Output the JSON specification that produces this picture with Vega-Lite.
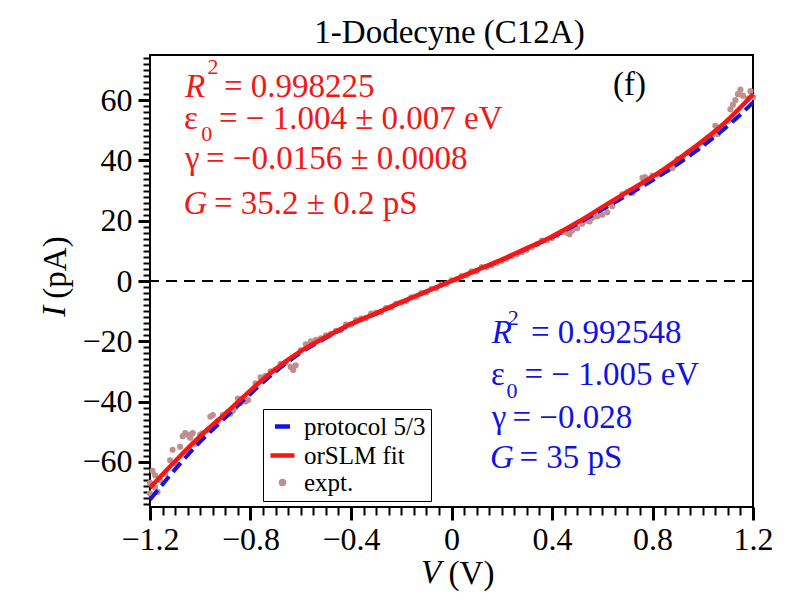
{
  "$schema": "https://vega.github.io/schema/vega-lite/v6.json",
  "description": "I-V curve of 1-Dodecyne (C12A): experiment, orSLM fit and protocol 5/3",
  "background": "white",
  "autosize": {"type": "none"},
  "padding": {"left": 150, "top": 55, "right": 39, "bottom": 105},
  "width": 603,
  "height": 452,
  "title": {
    "text": "1-Dodecyne (C12A)",
    "font": "Liberation Serif",
    "fontSize": 33,
    "fontWeight": "normal",
    "color": "black",
    "anchor": "middle",
    "frame": "group",
    "baseline": "alphabetic",
    "offset": 17,
    "dx": -2,
    "dy": 38
  },
  "datasets": {
    "curves": [
      {"series": "protocol 5/3", "V": -1.2, "I": -72.6},
      {"series": "protocol 5/3", "V": -1.1, "I": -62.5},
      {"series": "protocol 5/3", "V": -1.0, "I": -53.3},
      {"series": "protocol 5/3", "V": -0.9, "I": -45.3},
      {"series": "protocol 5/3", "V": -0.8, "I": -37.4},
      {"series": "protocol 5/3", "V": -0.7, "I": -30.0},
      {"series": "protocol 5/3", "V": -0.6, "I": -23.8},
      {"series": "protocol 5/3", "V": -0.5, "I": -18.9},
      {"series": "protocol 5/3", "V": -0.4, "I": -14.4},
      {"series": "protocol 5/3", "V": -0.3, "I": -10.8},
      {"series": "protocol 5/3", "V": -0.2, "I": -7.1},
      {"series": "protocol 5/3", "V": -0.1, "I": -3.5},
      {"series": "protocol 5/3", "V": 0.0, "I": 0.0},
      {"series": "protocol 5/3", "V": 0.1, "I": 3.5},
      {"series": "protocol 5/3", "V": 0.2, "I": 7.0},
      {"series": "protocol 5/3", "V": 0.3, "I": 10.7},
      {"series": "protocol 5/3", "V": 0.4, "I": 14.5},
      {"series": "protocol 5/3", "V": 0.5, "I": 18.9},
      {"series": "protocol 5/3", "V": 0.6, "I": 23.7},
      {"series": "protocol 5/3", "V": 0.7, "I": 28.5},
      {"series": "protocol 5/3", "V": 0.8, "I": 33.4},
      {"series": "protocol 5/3", "V": 0.9, "I": 38.8},
      {"series": "protocol 5/3", "V": 1.0, "I": 44.8},
      {"series": "protocol 5/3", "V": 1.1, "I": 51.5},
      {"series": "protocol 5/3", "V": 1.2, "I": 59.2},
      {"series": "orSLM fit", "V": -1.2, "I": -68.6},
      {"series": "orSLM fit", "V": -1.1, "I": -59.8},
      {"series": "orSLM fit", "V": -1.0, "I": -51.5},
      {"series": "orSLM fit", "V": -0.9, "I": -44.0},
      {"series": "orSLM fit", "V": -0.8, "I": -36.3},
      {"series": "orSLM fit", "V": -0.7, "I": -29.2},
      {"series": "orSLM fit", "V": -0.6, "I": -23.3},
      {"series": "orSLM fit", "V": -0.5, "I": -18.6},
      {"series": "orSLM fit", "V": -0.4, "I": -14.2},
      {"series": "orSLM fit", "V": -0.3, "I": -10.7},
      {"series": "orSLM fit", "V": -0.2, "I": -7.0},
      {"series": "orSLM fit", "V": -0.1, "I": -3.5},
      {"series": "orSLM fit", "V": 0.0, "I": 0.0},
      {"series": "orSLM fit", "V": 0.1, "I": 3.6},
      {"series": "orSLM fit", "V": 0.2, "I": 7.1},
      {"series": "orSLM fit", "V": 0.3, "I": 10.9},
      {"series": "orSLM fit", "V": 0.4, "I": 14.8},
      {"series": "orSLM fit", "V": 0.5, "I": 19.4},
      {"series": "orSLM fit", "V": 0.6, "I": 24.5},
      {"series": "orSLM fit", "V": 0.7, "I": 29.6},
      {"series": "orSLM fit", "V": 0.8, "I": 34.6},
      {"series": "orSLM fit", "V": 0.9, "I": 40.3},
      {"series": "orSLM fit", "V": 1.0, "I": 46.5},
      {"series": "orSLM fit", "V": 1.1, "I": 53.5},
      {"series": "orSLM fit", "V": 1.2, "I": 62.0}
    ],
    "expt": [
      {"series": "expt.", "V": -1.20, "I": -67.0}, {"series": "expt.", "V": -1.20, "I": -70.5},
      {"series": "expt.", "V": -1.19, "I": -63.0}, {"series": "expt.", "V": -1.18, "I": -64.5},
      {"series": "expt.", "V": -1.18, "I": -68.5}, {"series": "expt.", "V": -1.17, "I": -70.0},
      {"series": "expt.", "V": -1.16, "I": -66.0}, {"series": "expt.", "V": -1.14, "I": -64.0},
      {"series": "expt.", "V": -1.12, "I": -59.5}, {"series": "expt.", "V": -1.11, "I": -56.0},
      {"series": "expt.", "V": -1.10, "I": -60.5}, {"series": "expt.", "V": -1.08, "I": -55.0},
      {"series": "expt.", "V": -1.07, "I": -51.5}, {"series": "expt.", "V": -1.06, "I": -50.5},
      {"series": "expt.", "V": -1.05, "I": -51.0}, {"series": "expt.", "V": -1.04, "I": -52.0},
      {"series": "expt.", "V": -1.03, "I": -50.5}, {"series": "expt.", "V": -1.02, "I": -54.0},
      {"series": "expt.", "V": -1.00, "I": -51.0}, {"series": "expt.", "V": -0.99, "I": -50.5},
      {"series": "expt.", "V": -0.97, "I": -49.5}, {"series": "expt.", "V": -0.96, "I": -45.0},
      {"series": "expt.", "V": -0.95, "I": -44.5}, {"series": "expt.", "V": -0.93, "I": -46.5},
      {"series": "expt.", "V": -0.91, "I": -44.5}, {"series": "expt.", "V": -0.89, "I": -43.5},
      {"series": "expt.", "V": -0.88, "I": -44.0}, {"series": "expt.", "V": -0.87, "I": -43.0},
      {"series": "expt.", "V": -0.86, "I": -42.0}, {"series": "expt.", "V": -0.85, "I": -39.0},
      {"series": "expt.", "V": -0.84, "I": -40.5}, {"series": "expt.", "V": -0.82, "I": -40.0},
      {"series": "expt.", "V": -0.81, "I": -39.5}, {"series": "expt.", "V": -0.80, "I": -37.0},
      {"series": "expt.", "V": -0.78, "I": -34.0}, {"series": "expt.", "V": -0.76, "I": -32.0},
      {"series": "expt.", "V": -0.74, "I": -31.5}, {"series": "expt.", "V": -0.72, "I": -30.0},
      {"series": "expt.", "V": -0.70, "I": -29.5}, {"series": "expt.", "V": -0.68, "I": -27.5},
      {"series": "expt.", "V": -0.66, "I": -27.0}, {"series": "expt.", "V": -0.64, "I": -28.5},
      {"series": "expt.", "V": -0.63, "I": -29.5}, {"series": "expt.", "V": -0.62, "I": -28.0},
      {"series": "expt.", "V": -0.60, "I": -23.0}, {"series": "expt.", "V": -0.58, "I": -21.0},
      {"series": "expt.", "V": -0.56, "I": -20.0}, {"series": "expt.", "V": -0.54, "I": -19.5},
      {"series": "expt.", "V": -0.52, "I": -19.0}, {"series": "expt.", "V": -0.50, "I": -18.0},
      {"series": "expt.", "V": -0.48, "I": -17.5}, {"series": "expt.", "V": -0.46, "I": -16.5},
      {"series": "expt.", "V": -0.44, "I": -16.3}, {"series": "expt.", "V": -0.42, "I": -14.5},
      {"series": "expt.", "V": -0.40, "I": -14.5}, {"series": "expt.", "V": -0.38, "I": -13.0},
      {"series": "expt.", "V": -0.36, "I": -12.5}, {"series": "expt.", "V": -0.34, "I": -12.3},
      {"series": "expt.", "V": -0.32, "I": -10.8}, {"series": "expt.", "V": -0.30, "I": -10.5},
      {"series": "expt.", "V": -0.28, "I": -10.3}, {"series": "expt.", "V": -0.26, "I": -9.0},
      {"series": "expt.", "V": -0.24, "I": -8.8}, {"series": "expt.", "V": -0.22, "I": -7.5},
      {"series": "expt.", "V": -0.20, "I": -7.2}, {"series": "expt.", "V": -0.18, "I": -6.6},
      {"series": "expt.", "V": -0.16, "I": -5.4}, {"series": "expt.", "V": -0.14, "I": -5.2},
      {"series": "expt.", "V": -0.12, "I": -4.0}, {"series": "expt.", "V": -0.10, "I": -3.8},
      {"series": "expt.", "V": -0.08, "I": -2.6}, {"series": "expt.", "V": -0.06, "I": -2.4},
      {"series": "expt.", "V": -0.04, "I": -1.2}, {"series": "expt.", "V": -0.02, "I": -0.9},
      {"series": "expt.", "V": 0.00, "I": 0.2}, {"series": "expt.", "V": 0.02, "I": 0.5},
      {"series": "expt.", "V": 0.04, "I": 1.6}, {"series": "expt.", "V": 0.06, "I": 1.9},
      {"series": "expt.", "V": 0.08, "I": 3.2}, {"series": "expt.", "V": 0.10, "I": 3.2},
      {"series": "expt.", "V": 0.12, "I": 4.6}, {"series": "expt.", "V": 0.14, "I": 4.6},
      {"series": "expt.", "V": 0.16, "I": 5.2}, {"series": "expt.", "V": 0.18, "I": 6.0},
      {"series": "expt.", "V": 0.20, "I": 6.7}, {"series": "expt.", "V": 0.22, "I": 7.4},
      {"series": "expt.", "V": 0.24, "I": 8.2}, {"series": "expt.", "V": 0.26, "I": 8.9},
      {"series": "expt.", "V": 0.28, "I": 9.6}, {"series": "expt.", "V": 0.30, "I": 10.4},
      {"series": "expt.", "V": 0.32, "I": 11.3}, {"series": "expt.", "V": 0.34, "I": 12.2},
      {"series": "expt.", "V": 0.36, "I": 13.4}, {"series": "expt.", "V": 0.38, "I": 13.5},
      {"series": "expt.", "V": 0.40, "I": 14.3}, {"series": "expt.", "V": 0.42, "I": 15.2},
      {"series": "expt.", "V": 0.44, "I": 16.2}, {"series": "expt.", "V": 0.46, "I": 16.0},
      {"series": "expt.", "V": 0.47, "I": 15.5}, {"series": "expt.", "V": 0.48, "I": 16.8},
      {"series": "expt.", "V": 0.50, "I": 17.5}, {"series": "expt.", "V": 0.52, "I": 19.0},
      {"series": "expt.", "V": 0.54, "I": 20.0}, {"series": "expt.", "V": 0.55, "I": 19.8},
      {"series": "expt.", "V": 0.56, "I": 21.0}, {"series": "expt.", "V": 0.58, "I": 21.5},
      {"series": "expt.", "V": 0.60, "I": 22.0}, {"series": "expt.", "V": 0.62, "I": 22.8},
      {"series": "expt.", "V": 0.64, "I": 24.8}, {"series": "expt.", "V": 0.66, "I": 27.0},
      {"series": "expt.", "V": 0.68, "I": 28.8}, {"series": "expt.", "V": 0.70, "I": 29.5},
      {"series": "expt.", "V": 0.72, "I": 29.2}, {"series": "expt.", "V": 0.74, "I": 31.0},
      {"series": "expt.", "V": 0.76, "I": 34.2}, {"series": "expt.", "V": 0.77, "I": 34.5},
      {"series": "expt.", "V": 0.78, "I": 33.0}, {"series": "expt.", "V": 0.80, "I": 35.0},
      {"series": "expt.", "V": 0.82, "I": 35.3}, {"series": "expt.", "V": 0.84, "I": 36.0},
      {"series": "expt.", "V": 0.86, "I": 36.8}, {"series": "expt.", "V": 0.88, "I": 37.5},
      {"series": "expt.", "V": 0.90, "I": 40.5}, {"series": "expt.", "V": 0.92, "I": 41.0},
      {"series": "expt.", "V": 0.94, "I": 42.5}, {"series": "expt.", "V": 0.96, "I": 43.2},
      {"series": "expt.", "V": 0.98, "I": 43.8}, {"series": "expt.", "V": 1.00, "I": 46.0},
      {"series": "expt.", "V": 1.02, "I": 47.5}, {"series": "expt.", "V": 1.04, "I": 48.5},
      {"series": "expt.", "V": 1.05, "I": 51.5}, {"series": "expt.", "V": 1.06, "I": 48.8},
      {"series": "expt.", "V": 1.08, "I": 50.5}, {"series": "expt.", "V": 1.10, "I": 53.0},
      {"series": "expt.", "V": 1.11, "I": 57.0}, {"series": "expt.", "V": 1.12, "I": 58.5},
      {"series": "expt.", "V": 1.13, "I": 60.0}, {"series": "expt.", "V": 1.14, "I": 62.0},
      {"series": "expt.", "V": 1.15, "I": 63.5}, {"series": "expt.", "V": 1.16, "I": 61.5},
      {"series": "expt.", "V": 1.18, "I": 60.5}, {"series": "expt.", "V": 1.19, "I": 63.0},
      {"series": "expt.", "V": 1.20, "I": 61.0}
    ],
    "notes": [
      {"series": "orSLM fit", "kind": "it", "t": "R", "V": -1.0607, "I": 60.9},
      {"series": "orSLM fit", "kind": "small", "t": "2", "V": -0.971, "I": 68.6},
      {"series": "orSLM fit", "kind": "up", "t": "= 0.998225", "V": -0.9055, "I": 60.9},
      {"series": "orSLM fit", "kind": "up", "t": "ε", "V": -1.0647, "I": 50.4},
      {"series": "orSLM fit", "kind": "small", "t": "0", "V": -0.9962, "I": 46.5},
      {"series": "orSLM fit", "kind": "up", "t": "= − 1.004 ± 0.007 eV", "V": -0.9254, "I": 50.4},
      {"series": "orSLM fit", "kind": "up", "t": "γ", "V": -1.0607, "I": 37.1},
      {"series": "orSLM fit", "kind": "up", "t": "= −0.0156 ± 0.0008", "V": -0.9771, "I": 37.1},
      {"series": "orSLM fit", "kind": "it", "t": "G", "V": -1.0667, "I": 22.1},
      {"series": "orSLM fit", "kind": "up", "t": "= 35.2 ± 0.2 pS", "V": -0.9453, "I": 22.1},
      {"series": "protocol 5/3", "kind": "it", "t": "R", "V": 0.160, "I": -20.55},
      {"series": "protocol 5/3", "kind": "small", "t": "2", "V": 0.2236, "I": -14.46},
      {"series": "protocol 5/3", "kind": "up", "t": "= 0.992548", "V": 0.3164, "I": -20.55},
      {"series": "protocol 5/3", "kind": "up", "t": "ε", "V": 0.1572, "I": -34.41},
      {"series": "protocol 5/3", "kind": "small", "t": "0", "V": 0.2189, "I": -38.83},
      {"series": "protocol 5/3", "kind": "up", "t": "= − 1.005 eV", "V": 0.2905, "I": -34.41},
      {"series": "protocol 5/3", "kind": "up", "t": "γ", "V": 0.160, "I": -48.8},
      {"series": "protocol 5/3", "kind": "up", "t": "= −0.028", "V": 0.2428, "I": -48.8},
      {"series": "protocol 5/3", "kind": "it", "t": "G", "V": 0.1532, "I": -62.1},
      {"series": "protocol 5/3", "kind": "up", "t": "= 35 pS", "V": 0.2706, "I": -62.1}
    ]
  },
  "resolve": {"axis": {"x": "independent", "y": "independent"}},
  "layer": [
    {
      "data": {"values": [{"I": 0}]},
      "mark": {"type": "rule", "color": "black", "strokeWidth": 2, "strokeDash": [11, 7]},
      "encoding": {"y": {"field": "I", "type": "quantitative", "axis": null}}
    },
    {
      "data": {"name": "expt"},
      "mark": {"type": "point", "filled": false, "strokeWidth": 3, "opacity": 1},
      "encoding": {
        "x": {
          "field": "V",
          "type": "quantitative",
          "scale": {"domain": [-1.2, 1.2], "nice": false, "zero": false},
          "axis": {
            "orient": "bottom",
            "values": [-1.2, -0.8, -0.4, 0, 0.4, 0.8, 1.2],
            "labelExpr": "datum.value == 0 ? '0' : format(datum.value, '.1f')",
            "tickSize": 13,
            "tickWidth": 3,
            "tickColor": "black",
            "domain": false,
            "grid": false,
            "labelFont": "Liberation Serif",
            "labelFontSize": 32,
            "labelColor": "black",
            "labelPadding": 4,
            "labelFlush": false,
            "labelOverlap": false,
            "title": "(V)",
            "titleFont": "Liberation Serif",
            "titleFontSize": 33,
            "titleFontWeight": "normal",
            "titleColor": "black",
            "titleAlign": "center",
            "titleBaseline": "alphabetic",
            "titleX": 321,
            "titleY": 76
          }
        },
        "y": {
          "field": "I",
          "type": "quantitative",
          "scale": {"domain": [-75, 75], "nice": false, "zero": false},
          "axis": {
            "orient": "left",
            "values": [-60, -40, -20, 0, 20, 40, 60],
            "labelExpr": "format(datum.value, 'd')",
            "tickSize": 12,
            "tickWidth": 3,
            "tickColor": "black",
            "domain": false,
            "grid": false,
            "labelFont": "Liberation Serif",
            "labelFontSize": 32,
            "labelColor": "black",
            "labelPadding": 6,
            "labelOverlap": false,
            "title": "(pA)",
            "titleFont": "Liberation Serif",
            "titleFontSize": 33,
            "titleFontWeight": "normal",
            "titleColor": "black",
            "titleAngle": -90,
            "titleAlign": "center",
            "titleBaseline": "alphabetic",
            "titleX": -85,
            "titleY": 212
          }
        },
        "color": {
          "field": "series",
          "type": "nominal",
          "scale": {"domain": ["protocol 5/3", "orSLM fit", "expt."], "range": ["#1212e6", "#f51616", "#bf8f8f"]},
          "legend": {
            "title": null,
            "orient": "none",
            "legendX": 113,
            "legendY": 354,
            "padding": 5,
            "strokeColor": "black",
            "fillColor": "white",
            "labelFont": "Liberation Serif",
            "labelFontSize": 25,
            "labelColor": "black",
            "labelOffset": 7,
            "labelLimit": 0,
            "rowPadding": 1,
            "symbolStrokeWidth": 4.5,
            "symbolOpacity": 1
          }
        },
        "shape": {
          "field": "series",
          "type": "nominal",
          "scale": {"domain": ["protocol 5/3", "orSLM fit", "expt."], "range": ["stroke", "stroke", "circle"]}
        },
        "size": {
          "field": "series",
          "type": "nominal",
          "scale": {"type": "ordinal", "domain": ["protocol 5/3", "orSLM fit", "expt."], "range": [225, 576, 10]}
        }
      }
    },
    {
      "data": {"name": "curves"},
      "transform": [{"filter": "datum.series === 'protocol 5/3'"}],
      "mark": {"type": "line", "strokeWidth": 4, "strokeDash": [12, 6], "interpolate": "monotone"},
      "encoding": {
        "x": {
          "field": "V",
          "type": "quantitative",
          "axis": {
            "orient": "bottom",
            "values": [-1.15, -1.1, -1.05, -1, -0.95, -0.9, -0.85, -0.75, -0.7, -0.65, -0.6, -0.55, -0.5, -0.45, -0.35, -0.3, -0.25, -0.2, -0.15, -0.1, -0.05, 0.05, 0.1, 0.15, 0.2, 0.25, 0.3, 0.35, 0.45, 0.5, 0.55, 0.6, 0.65, 0.7, 0.75, 0.85, 0.9, 0.95, 1, 1.05, 1.1, 1.15],
            "labels": false,
            "tickSize": 8,
            "tickWidth": 2,
            "tickColor": "black",
            "domain": false,
            "grid": false,
            "title": null
          }
        },
        "y": {
          "field": "I",
          "type": "quantitative",
          "axis": {
            "orient": "left",
            "values": [-74, -72, -70, -68, -66, -64, -62, -58, -56, -54, -52, -50, -48, -46, -44, -42, -38, -36, -34, -32, -30, -28, -26, -24, -22, -18, -16, -14, -12, -10, -8, -6, -4, -2, 2, 4, 6, 8, 10, 12, 14, 16, 18, 22, 24, 26, 28, 30, 32, 34, 36, 38, 42, 44, 46, 48, 50, 52, 54, 56, 58, 62, 64, 66, 68, 70, 72, 74],
            "labels": false,
            "tickSize": 7,
            "tickWidth": 2,
            "tickColor": "black",
            "domain": false,
            "grid": false,
            "title": null
          }
        },
        "color": {"field": "series", "type": "nominal", "legend": null}
      }
    },
    {
      "data": {"name": "curves"},
      "transform": [{"filter": "datum.series === 'orSLM fit'"}],
      "mark": {"type": "line", "strokeWidth": 4.5, "interpolate": "monotone"},
      "encoding": {
        "x": {"field": "V", "type": "quantitative", "axis": null},
        "y": {"field": "I", "type": "quantitative", "axis": null},
        "color": {"field": "series", "type": "nominal", "legend": null}
      }
    },
    {
      "data": {"name": "notes"},
      "transform": [{"filter": "datum.kind === 'it'"}],
      "mark": {"type": "text", "align": "left", "baseline": "alphabetic", "font": "Liberation Serif", "fontSize": 33, "fontStyle": "italic"},
      "encoding": {
        "x": {"field": "V", "type": "quantitative", "axis": null},
        "y": {"field": "I", "type": "quantitative", "axis": null},
        "text": {"field": "t"},
        "color": {"field": "series", "type": "nominal", "legend": null}
      }
    },
    {
      "data": {"name": "notes"},
      "transform": [{"filter": "datum.kind === 'up'"}],
      "mark": {"type": "text", "align": "left", "baseline": "alphabetic", "font": "Liberation Serif", "fontSize": 33},
      "encoding": {
        "x": {"field": "V", "type": "quantitative", "axis": null},
        "y": {"field": "I", "type": "quantitative", "axis": null},
        "text": {"field": "t"},
        "color": {"field": "series", "type": "nominal", "legend": null}
      }
    },
    {
      "data": {"name": "notes"},
      "transform": [{"filter": "datum.kind === 'small'"}],
      "mark": {"type": "text", "align": "left", "baseline": "alphabetic", "font": "Liberation Serif", "fontSize": 22},
      "encoding": {
        "x": {"field": "V", "type": "quantitative", "axis": null},
        "y": {"field": "I", "type": "quantitative", "axis": null},
        "text": {"field": "t"},
        "color": {"field": "series", "type": "nominal", "legend": null}
      }
    },
    {
      "data": {"values": [{"t": "(f)", "V": 0.6428, "I": 61.7}]},
      "mark": {"type": "text", "align": "left", "baseline": "alphabetic", "font": "Liberation Serif", "fontSize": 33, "color": "black"},
      "encoding": {
        "x": {"field": "V", "type": "quantitative", "axis": null},
        "y": {"field": "I", "type": "quantitative", "axis": null},
        "text": {"field": "t"}
      }
    },
    {
      "data": {"values": [{"t": "V", "V": -0.0816, "I": -100.2}]},
      "mark": {"type": "text", "align": "center", "baseline": "alphabetic", "font": "Liberation Serif", "fontSize": 33, "fontStyle": "italic", "color": "black"},
      "encoding": {
        "x": {"field": "V", "type": "quantitative", "axis": null},
        "y": {"field": "I", "type": "quantitative", "axis": null},
        "text": {"field": "t"}
      }
    },
    {
      "data": {"values": [{"t": "I", "V": -1.538, "I": -10.0}]},
      "mark": {"type": "text", "align": "center", "baseline": "alphabetic", "angle": 270, "font": "Liberation Serif", "fontSize": 33, "fontStyle": "italic", "color": "black"},
      "encoding": {
        "x": {"field": "V", "type": "quantitative", "axis": null},
        "y": {"field": "I", "type": "quantitative", "axis": null},
        "text": {"field": "t"}
      }
    }
  ],
  "config": {
    "view": {"stroke": "black", "strokeWidth": 2},
    "font": "Liberation Serif"
  }
}
